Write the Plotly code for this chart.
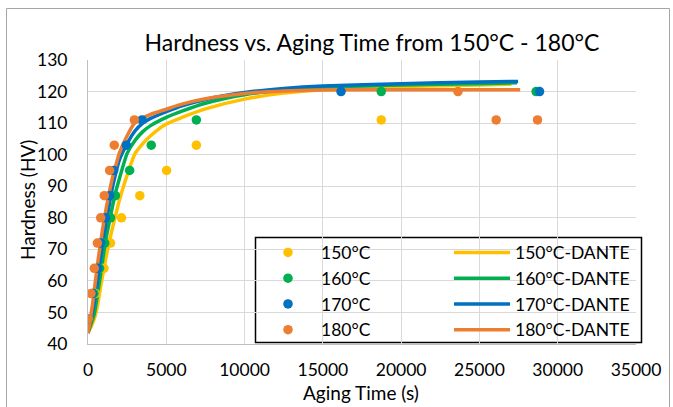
import plotly.graph_objects as go

# ---- data ----
temps = ["150°C", "160°C", "170°C", "180°C"]
colors = ["#FFC000", "#00B050", "#0070C0", "#ED7D31"]

# measured points
t150 = [0, 480, 1020, 1440, 2140, 3310, 5020, 6920, 18730]
h150 = [48, 56, 64, 72, 80, 87, 95, 103, 111]
t160 = [0, 380, 740, 1070, 1440, 1750, 2660, 4040, 6920, 18730, 28620]
h160 = [48, 56, 64, 72, 80, 87, 95, 103, 111, 120, 120]
t170 = [0, 280, 620, 820, 1120, 1380, 1640, 2450, 3450, 16160, 28840]
h170 = [48, 56, 64, 72, 80, 87, 95, 103, 111, 120, 120]
t180 = [20, 190, 400, 600, 810, 1040, 1380, 1680, 2960, 23630, 26070, 28710]
h180 = [48, 56, 64, 72, 80, 87, 95, 103, 111, 120, 111, 111]

# DANTE model curves
d150_t = [0, 200, 400, 600, 800, 1000, 1250, 1500, 1750, 2000, 2270, 2500, 3000, 3500, 4000,
          5000, 6000, 7500, 10000, 12500, 15000, 20000, 25000, 27040]
d150_h = [43.5, 45.5, 48, 52, 58, 63.5, 70, 75.5, 80.5, 85.5, 90, 93.5, 100.3, 103.5, 106,
          109.7, 111.8, 114.5, 117.6, 119.5, 120.6, 121.6, 122.1, 122.3]
d160_t = [0, 200, 400, 600, 800, 1000, 1200, 1400, 1600, 1800, 2000, 2500, 3000, 3500, 4000,
          5000, 6000, 7500, 10000, 12500, 15000, 20000, 25000, 27400]
d160_h = [43.5, 46.5, 49.5, 55.5, 62, 68.7, 74.7, 79.5, 84.5, 88.8, 92.3, 100.4, 104.5, 107.3, 109.2,
          111.8, 113.8, 116.3, 119, 120.5, 121.4, 122.1, 122.5, 122.8]
d170_t = [0, 200, 400, 600, 800, 1000, 1200, 1400, 1600, 2000, 2500, 3000, 3500, 4000,
          5000, 6000, 7500, 10000, 12500, 15000, 20000, 25000, 27470]
d170_h = [43.5, 48, 53, 59.5, 67.3, 74, 79.7, 85.3, 90.5, 98.3, 103.5, 107.5, 110, 111.5,
          113.6, 115.5, 117.5, 119.7, 121, 121.8, 122.5, 123, 123.2]
d180_t = [0, 100, 200, 300, 400, 500, 600, 800, 1000, 1200, 1400, 1600, 1800, 2000, 2500, 3000,
          3500, 4000, 5000, 6000, 7500, 10000, 12500, 15000, 20000, 25000, 27600]
d180_h = [43.5, 46, 49.5, 53, 57, 61, 65, 72, 78.5, 84, 89, 93.5, 97, 100.5, 106, 110.2,
          111.7, 112.8, 114.4, 116, 117.7, 119.4, 120.2, 120.5, 120.6, 120.6, 120.6]

x_ticks = [0, 5000, 10000, 15000, 20000, 25000, 30000, 35000]
y_ticks = [40, 50, 60, 70, 80, 90, 100, 110, 120, 130]

pts = [(t150, h150), (t160, h160), (t170, h170), (t180, h180)]
curves = [(d150_t, d150_h), (d160_t, d160_h), (d170_t, d170_h), (d180_t, d180_h)]

FONT = "Lato"
fig = go.Figure()

for i, (tt, hh) in enumerate(curves):
    fig.add_trace(go.Scatter(x=tt, y=hh, mode="lines", name=temps[i] + "-DANTE",
                             line=dict(color=colors[i], width=3.5, shape="spline", smoothing=0.6),
                             legend="legend2", legendrank=i + 1))
for i, (tt, hh) in enumerate(pts):
    fig.add_trace(go.Scatter(x=tt, y=hh, mode="markers", name=temps[i],
                             marker=dict(color=colors[i], size=9.5),
                             legend="legend", legendrank=i + 1))

L, R, T, B = 88, 37, 60, 63
W, H = 673, 407
pw, ph = W - L - R, H - T - B

def px(xp):
    return (xp - L) / pw

def py(yp):
    return (H - B - yp) / ph

leg_common = dict(yanchor="top", y=py(234.5), xanchor="left",
                  itemwidth=56, bgcolor="rgba(0,0,0,0)", borderwidth=0,
                  font=dict(family=FONT, size=17.5, color="#000000"),
                  traceorder="normal", orientation="v", tracegroupgap=0)

fig.update_layout(
    width=W, height=H,
    margin=dict(l=L, r=R, t=T, b=B),
    paper_bgcolor="white", plot_bgcolor="white",
    font=dict(family=FONT, size=17, color="#000000"),
    title=dict(text="Hardness vs. Aging Time from 150°C - 180°C",
               x=px(372), xref="paper", xanchor="center",
               y=1 - 43 / H, yref="container", yanchor="middle",
               font=dict(family=FONT, size=23, color="#000000")),
    xaxis=dict(range=[0, 35000], tickvals=x_ticks, ticktext=[str(v) for v in x_ticks],
               showgrid=True, gridcolor="#d9d9d9", gridwidth=1,
               showline=True, linecolor="#bfbfbf", linewidth=1,
               zeroline=False, ticks="", ticklabelstandoff=10,
               tickfont=dict(family=FONT, size=17.5)),
    yaxis=dict(range=[40, 130], tickvals=y_ticks, ticktext=[str(v) for v in y_ticks],
               showgrid=True, gridcolor="#d9d9d9", gridwidth=1,
               showline=True, linecolor="#bfbfbf", linewidth=1,
               zeroline=False, ticks="", ticklabelstandoff=16,
               tickfont=dict(family=FONT, size=17.5)),
    showlegend=True,
    legend=dict(x=px(255), **leg_common),
    legend2=dict(x=px(449), **leg_common),
    annotations=[
        dict(text="Aging Time (s)", x=px(361), y=py(393), xref="paper", yref="paper",
             xanchor="center", yanchor="middle", showarrow=False,
             font=dict(family=FONT, size=19)),
        dict(text="Hardness (HV)", x=px(27), y=py(200), xref="paper", yref="paper",
             xanchor="center", yanchor="middle", showarrow=False, textangle=-90,
             font=dict(family=FONT, size=19)),
    ],
    shapes=[
        dict(type="rect", xref="paper", yref="paper",
             x0=px(6.5), x1=px(669.5), y0=py(430), y1=py(8.5),
             line=dict(color="#a6a6a6", width=1), layer="below"),
        dict(type="rect", xref="paper", yref="paper",
             x0=px(255.5), x1=px(641.5), y0=py(342.5), y1=py(237.5),
             fillcolor="white", line=dict(color="#000000", width=1.5), layer="between"),
    ],
)

fig.write_html("out.html")
